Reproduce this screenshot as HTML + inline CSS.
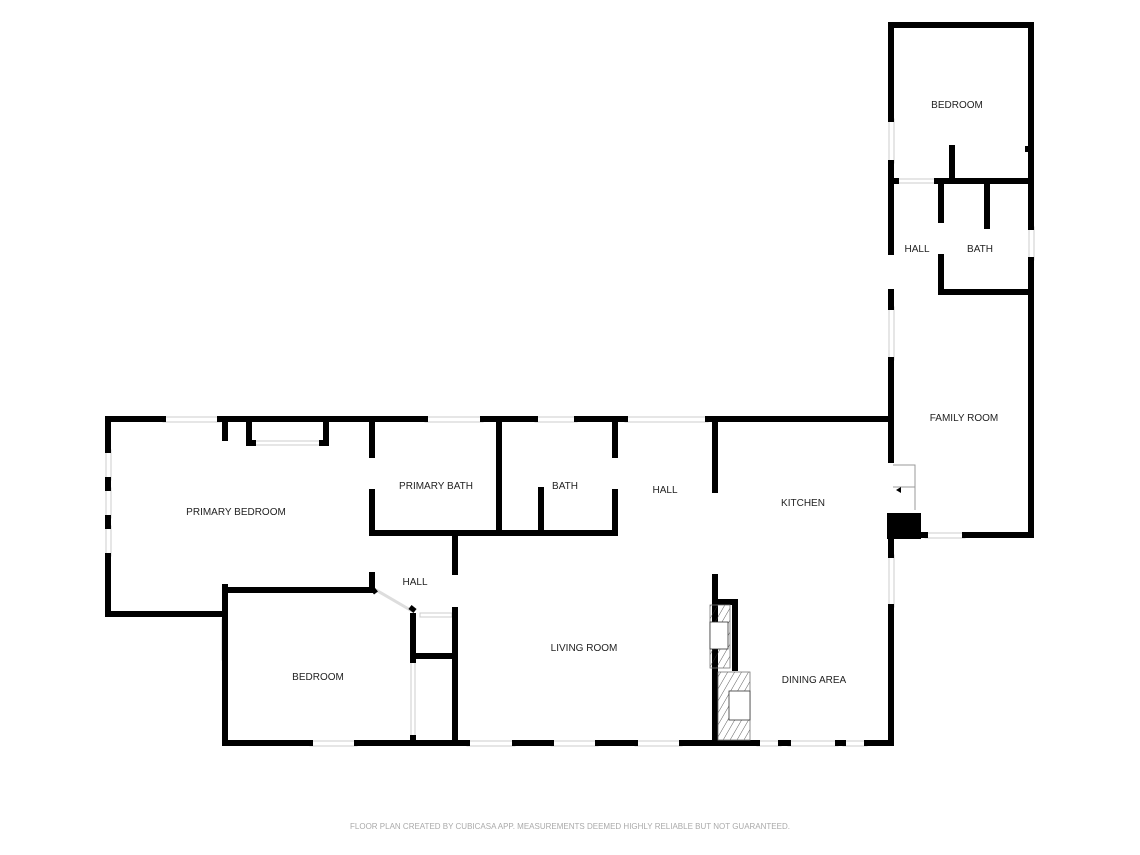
<!DOCTYPE html>
<html><head><style>body{margin:0;background:#fff}svg{display:block}text{font-family:"Liberation Sans",sans-serif;font-size:10px;fill:#222;text-anchor:middle}</style></head><body>
<svg width="1140" height="855" viewBox="0 0 1140 855">
<defs><pattern id="h" width="6" height="6" patternUnits="userSpaceOnUse" patternTransform="rotate(30)"><line x1="0" y1="0" x2="0" y2="6" stroke="#333" stroke-width="0.8"/></pattern></defs>
<g stroke="#ccc" stroke-width="1" fill="#fff">
<rect x="163" y="417" width="57" height="5"/><rect x="425" y="417" width="58" height="5"/><rect x="535" y="417" width="42" height="5"/><rect x="625" y="417" width="83" height="5"/>
<rect x="106" y="450" width="5" height="30"/><rect x="106" y="488" width="5" height="30"/><rect x="106" y="526" width="5" height="30"/><rect x="222" y="619" width="5" height="41"/>
<rect x="310" y="741" width="47" height="5"/><rect x="467" y="741" width="48" height="5"/><rect x="551" y="741" width="47" height="5"/><rect x="635" y="741" width="47" height="5"/><rect x="757" y="741" width="24" height="5"/><rect x="788" y="741" width="50" height="5"/><rect x="843" y="741" width="24" height="5"/>
<rect x="889" y="555" width="5" height="52"/><rect x="889" y="119" width="5" height="44"/><rect x="889" y="307" width="5" height="53"/><rect x="1029" y="227" width="5" height="33"/><rect x="925" y="533" width="40" height="5"/><rect x="898" y="179" width="37" height="4"/>
<rect x="252" y="441" width="72" height="4"/><rect x="420" y="613" width="32" height="4"/><rect x="411" y="662" width="4" height="74"/>
</g>
<g stroke="#000" stroke-width="6" fill="none" stroke-linecap="square">
<path d="M108 419H163M220 419H425M483 419H535M577 419H625M708 419H891"/>
<path d="M108 419V450M108 480V488M108 518V526M108 556V614H225V743H310M357 743H467M515 743H551M598 743H635M682 743H757M781 743H788M838 743H843M867 743H891V607M891 555V538"/>
<path d="M225 587V619M225 660V743"/>
<path d="M225 590H372V575M372 419V455M372 492V530M372 533H615V492M615 455V419M499 419V533M541 490V533"/>
<path d="M455 536V572M455 610V743M413 616V660M413 656H455M413 738V743"/>
<path d="M225 419V438M249 419V443H253M326 419V443H322"/>
<path d="M715 419V490M715 577V743M715 602H735V668"/>
<path d="M891 25V119M891 163V252M891 292V307M891 360V460M891 25H1031V227M1031 260V535H965M925 535H918"/>
<path d="M891 181H896M937 181H1031M952 148V181M941 181V220M941 257V292H1031M987 181V226"/>
</g>
<path d="M376 590L412 611" stroke="#ddd" stroke-width="3"/>
<path d="M372 588l4 5M410 607l5 4" stroke="#000" stroke-width="5"/>
<rect x="1025" y="146" width="4" height="6" fill="#000"/>
<rect x="887" y="513" width="34" height="26" fill="#000"/>
<g stroke="#999" stroke-width="1" fill="none"><path d="M893 465H915V510M893 487H915"/></g>
<path d="M896 490l5-3v6z" fill="#000"/>
<rect x="710" y="605" width="20" height="63" fill="url(#h)" stroke="#777" stroke-width="0.8"/><rect x="710" y="622" width="18" height="27" fill="#fff" stroke="#333" stroke-width="0.8"/>
<rect x="718" y="672" width="32" height="68" fill="url(#h)" stroke="#777" stroke-width="0.8"/><rect x="729" y="691" width="21" height="29" fill="#fff" stroke="#333" stroke-width="0.8"/>
<text x="236" y="515">PRIMARY BEDROOM</text><text x="436" y="489">PRIMARY BATH</text><text x="565" y="489">BATH</text><text x="665" y="493">HALL</text><text x="803" y="506">KITCHEN</text><text x="415" y="585">HALL</text><text x="318" y="680">BEDROOM</text><text x="584" y="651">LIVING ROOM</text><text x="814" y="683">DINING AREA</text><text x="957" y="108">BEDROOM</text><text x="917" y="252">HALL</text><text x="980" y="252">BATH</text><text x="964" y="421">FAMILY ROOM</text>
<text x="570" y="829" style="font-size:8px;fill:#aaa">FLOOR PLAN CREATED BY CUBICASA APP. MEASUREMENTS DEEMED HIGHLY RELIABLE BUT NOT GUARANTEED.</text>
</svg></body></html>
